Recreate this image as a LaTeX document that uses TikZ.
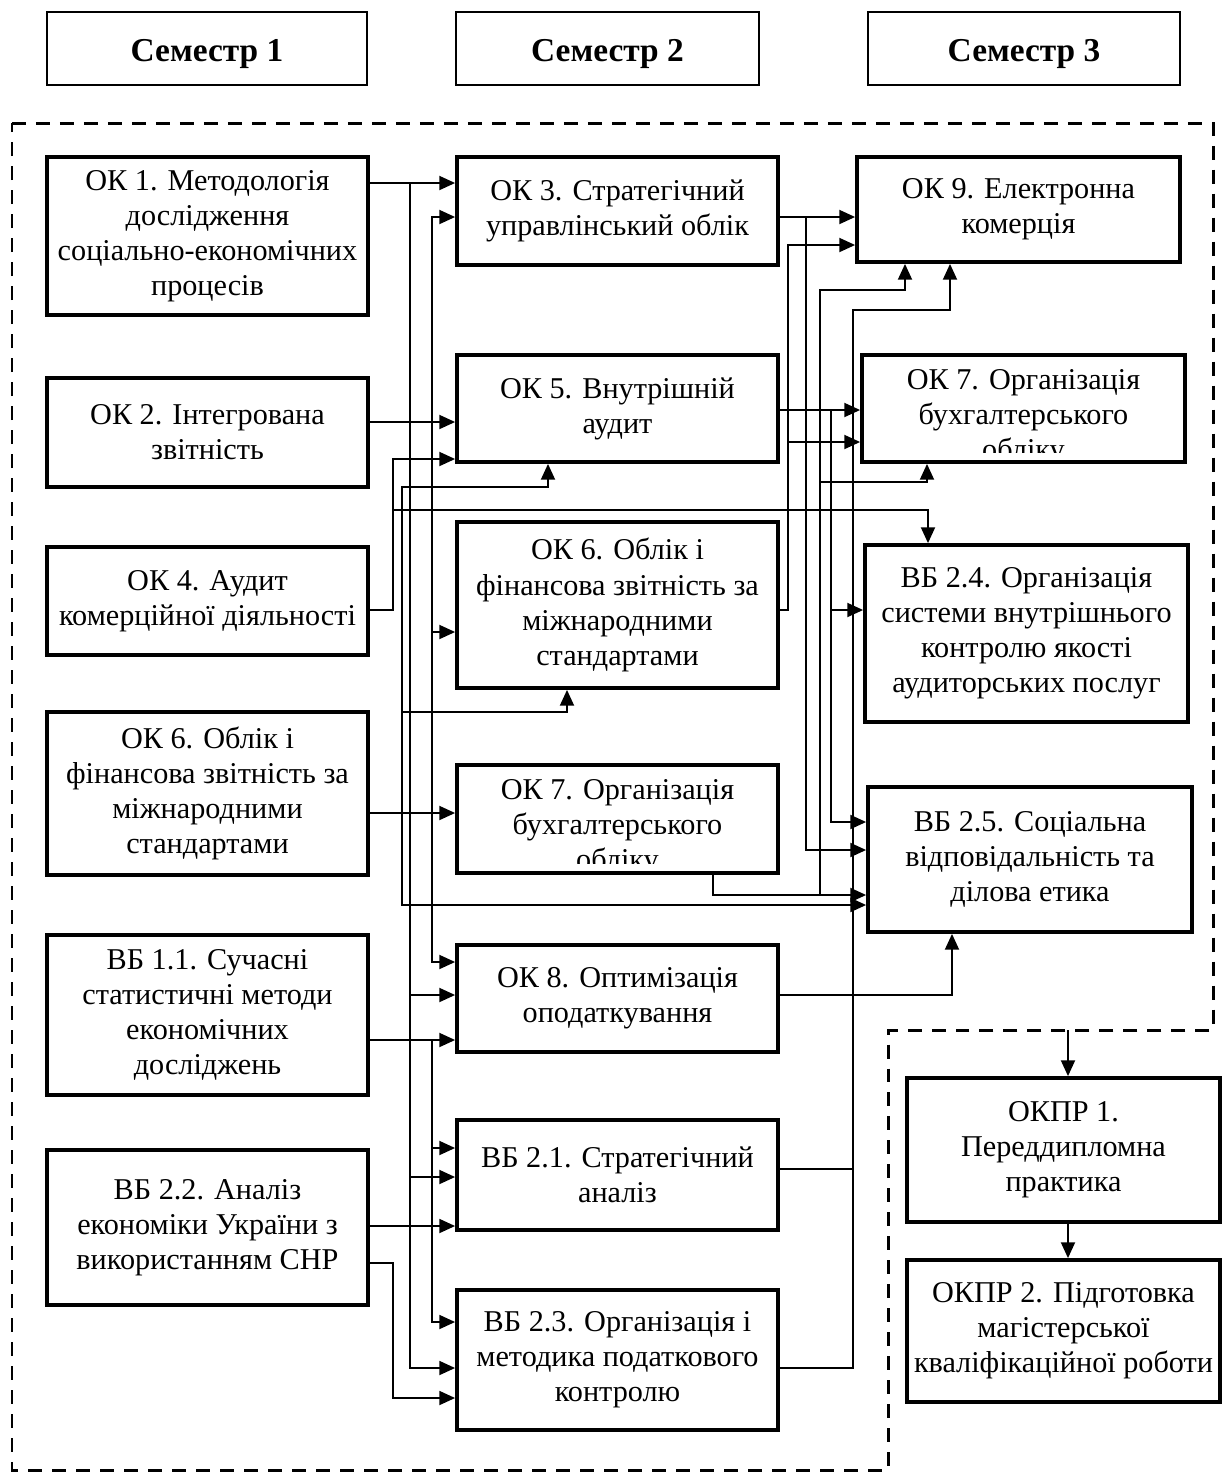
\documentclass[tikz,border=0pt]{standalone}
\usepackage{fontspec}
\setmainfont{Liberation Serif}
\usetikzlibrary{arrows.meta}

\begin{document}
\begin{tikzpicture}[x=0.02cm,y=-0.02cm,>={Triangle[length=9pt,width=8pt]},
  sem/.style={draw,line width=1.6pt,minimum height=1.46cm,font=\fontsize{19}{23}\selectfont\bfseries},
  blok/.style={draw,line width=2.2pt,align=center,inner sep=1pt,font=\fontsize{17.2}{20}\selectfont},
  txt/.style={align=center,inner sep=0pt,font=\fontsize{17.2}{20}\selectfont},
  zv/.style={line width=1pt},
  ramka/.style={line width=1.7pt,dash pattern=on 0.28cm off 0.2cm}]
\useasboundingbox (0,0) rectangle (1222,1475);

\node[sem,minimum width=6.4cm] (s1) at (207,48.5) {\raisebox{-3pt}[\height][\depth]{Семестр 1}};
\node[sem,minimum width=6.06cm] (s2) at (607.5,48.5) {\raisebox{-3pt}[\height][\depth]{Семестр 2}};
\node[sem,minimum width=6.24cm] (s3) at (1024,48.5) {\raisebox{-3pt}[\height][\depth]{Семестр 3}};

\draw[ramka] (12,123) -- (1213,123) -- (1213,1030) -- (888,1030) -- (888,1470) -- (12,1470) -- cycle;

\node[blok,minimum width=6.42cm,minimum height=3.16cm] (ok1) at (207.5,236) {ОК 1. Методологія\\дослідження\\соціально-економічних\\процесів};
\node[blok,minimum width=6.42cm,minimum height=2.18cm] (ok2) at (207.5,432.5) {ОК 2. Інтегрована\\звітність};
\node[blok,minimum width=6.42cm,minimum height=2.16cm] (ok4) at (207.5,601) {ОК 4. Аудит\\комерційної діяльності};
\node[blok,minimum width=6.42cm,minimum height=3.26cm] (ok6a) at (207.5,793.5) {ОК 6. Облік і\\фінансова звітність за\\міжнародними\\стандартами};
\node[blok,minimum width=6.42cm,minimum height=3.2cm] (vb11) at (207.5,1015) {ВБ 1.1. Сучасні\\статистичні методи\\економічних\\досліджень};
\node[blok,minimum width=6.42cm,minimum height=3.1cm] (vb22) at (207.5,1227.5) {ВБ 2.2. Аналіз\\економіки України з\\використанням СНР};

\node[blok,minimum width=6.42cm,minimum height=2.16cm] (ok3) at (617.5,211) {ОК 3. Стратегічний\\управлінський облік};
\node[blok,minimum width=6.42cm,minimum height=2.14cm] (ok5) at (617.5,408.5) {ОК 5. Внутрішній\\аудит};
\node[blok,minimum width=6.42cm,minimum height=3.32cm] (ok6b) at (617.5,605) {ОК 6. Облік і\\фінансова звітність за\\міжнародними\\стандартами};
\node[blok,minimum width=6.42cm,minimum height=2.16cm] (ok7b) at (617.5,819) {};
\begin{scope}
\clip (ok7b.north west) rectangle ([yshift=0.22cm]ok7b.south east);
\node[txt] at (617.5,828) {ОК 7. Організація\\бухгалтерського\\обліку};
\end{scope}
\node[blok,minimum width=6.42cm,minimum height=2.14cm] (ok8) at (617.5,998.5) {ОК 8. Оптимізація\\оподаткування};
\node[blok,minimum width=6.42cm,minimum height=2.2cm] (vb21) at (617.5,1175) {ВБ 2.1. Стратегічний\\аналіз};
\node[blok,minimum width=6.42cm,minimum height=2.8cm] (vb23) at (617.5,1360) {ВБ 2.3. Організація і\\методика податкового\\контролю};

\node[blok,minimum width=6.46cm,minimum height=2.1cm] (ok9) at (1018.5,209.5) {ОК 9. Електронна\\комерція};
\node[blok,minimum width=6.46cm,minimum height=2.14cm] (ok7c) at (1023.5,408.5) {};
\begin{scope}
\clip (ok7c.north west) rectangle ([yshift=0.22cm]ok7c.south east);
\node[txt] at (1023.5,418) {ОК 7. Організація\\бухгалтерського\\обліку};
\end{scope}
\node[blok,minimum width=6.46cm,minimum height=3.54cm] (vb24) at (1026.5,633.5) {ВБ 2.4. Організація\\системи внутрішнього\\контролю якості\\аудиторських послуг};
\node[blok,minimum width=6.48cm,minimum height=2.9cm] (vb25) at (1030,859.5) {ВБ 2.5. Соціальна\\відповідальність та\\ділова етика};
\node[blok,minimum width=6.26cm,minimum height=2.88cm] (okpr1) at (1063.5,1150) {ОКПР 1.\\Переддипломна\\практика};
\node[blok,minimum width=6.26cm,minimum height=2.84cm] (okpr2) at (1063.5,1331) {ОКПР 2. Підготовка\\магістерської\\кваліфікаційної роботи};

\draw[zv,->] (ok1.east|-0,183) -- (ok3.west|-0,183);
\draw[zv,->] (410,183) |- (vb23.west|-0,1368);
\draw[zv,->] (410,995) -- (ok8.west|-0,995);
\draw[zv,->] (410,1177) -- (vb21.west|-0,1177);
\draw[zv,->] (432,632) |- (ok3.west|-0,217);
\draw[zv,->] (432,632) |- (ok8.west|-0,962);
\draw[zv,->] (432,632) -- (ok6b.west|-0,632);
\draw[zv,->] (vb11.east|-0,1040) -- (ok8.west|-0,1040);
\draw[zv,->] (432,1040) |- (vb23.west|-0,1322);
\draw[zv,->] (432,1148) -- (vb21.west|-0,1148);
\draw[zv,->] (ok2.east|-0,422) -- (ok5.west|-0,422);
\draw[zv,->] (ok4.east|-0,610) -| (393,459) -- (ok5.west|-0,459);
\draw[zv,->] (393,510) -| (vb24.north-|928,0);
\draw[zv,->] (ok6a.east|-0,813) -- (ok7b.west|-0,813);
\draw[zv,->] (402,813) |- (548,487) -- (ok5.south-|548,0);
\draw[zv,->] (402,712) -| (ok6b.south-|567,0);
\draw[zv,->] (402,813) |- (vb25.west|-0,905);
\draw[zv,->] (vb22.east|-0,1226) -- (vb21.west|-0,1226);
\draw[zv,->] (vb22.east|-0,1263) -| (393,1398) -- (vb23.west|-0,1398);

\draw[zv,->] (ok3.east|-0,217) -- (ok9.west|-0,217);
\draw[zv,->] (806,217) |- (vb25.west|-0,850);
\draw[zv,->] (ok6b.east|-0,610) -| (788,245) -- (ok9.west|-0,245);
\draw[zv,->] (788,442) -- (ok7c.west|-0,442);
\draw[zv,->] (ok5.east|-0,410) -- (ok7c.west|-0,410);
\draw[zv,->] (831,410) |- (vb25.west|-0,822);
\draw[zv,->] (831,610) -- (vb24.west|-0,610);
\draw[zv,->] (ok7b.south-|713,0) |- (vb25.west|-0,895);
\draw[zv,->] (820,895) |- (905,290) -- (ok9.south-|905,0);
\draw[zv,->] (820,482) -| (ok7c.south-|927,0);
\draw[zv] (vb21.east|-0,1169) -- (853,1169);
\draw[zv,->] (vb23.east|-0,1368) -| (853,310) -| (ok9.south-|950,0);
\draw[zv,->] (ok8.east|-0,995) -| (vb25.south-|952,0);
\draw[zv,->] (1068,1030) -- (okpr1.north-|1068,0);
\draw[zv,->] (okpr1.south-|1068,0) -- (okpr2.north-|1068,0);
\end{tikzpicture}
\end{document}
